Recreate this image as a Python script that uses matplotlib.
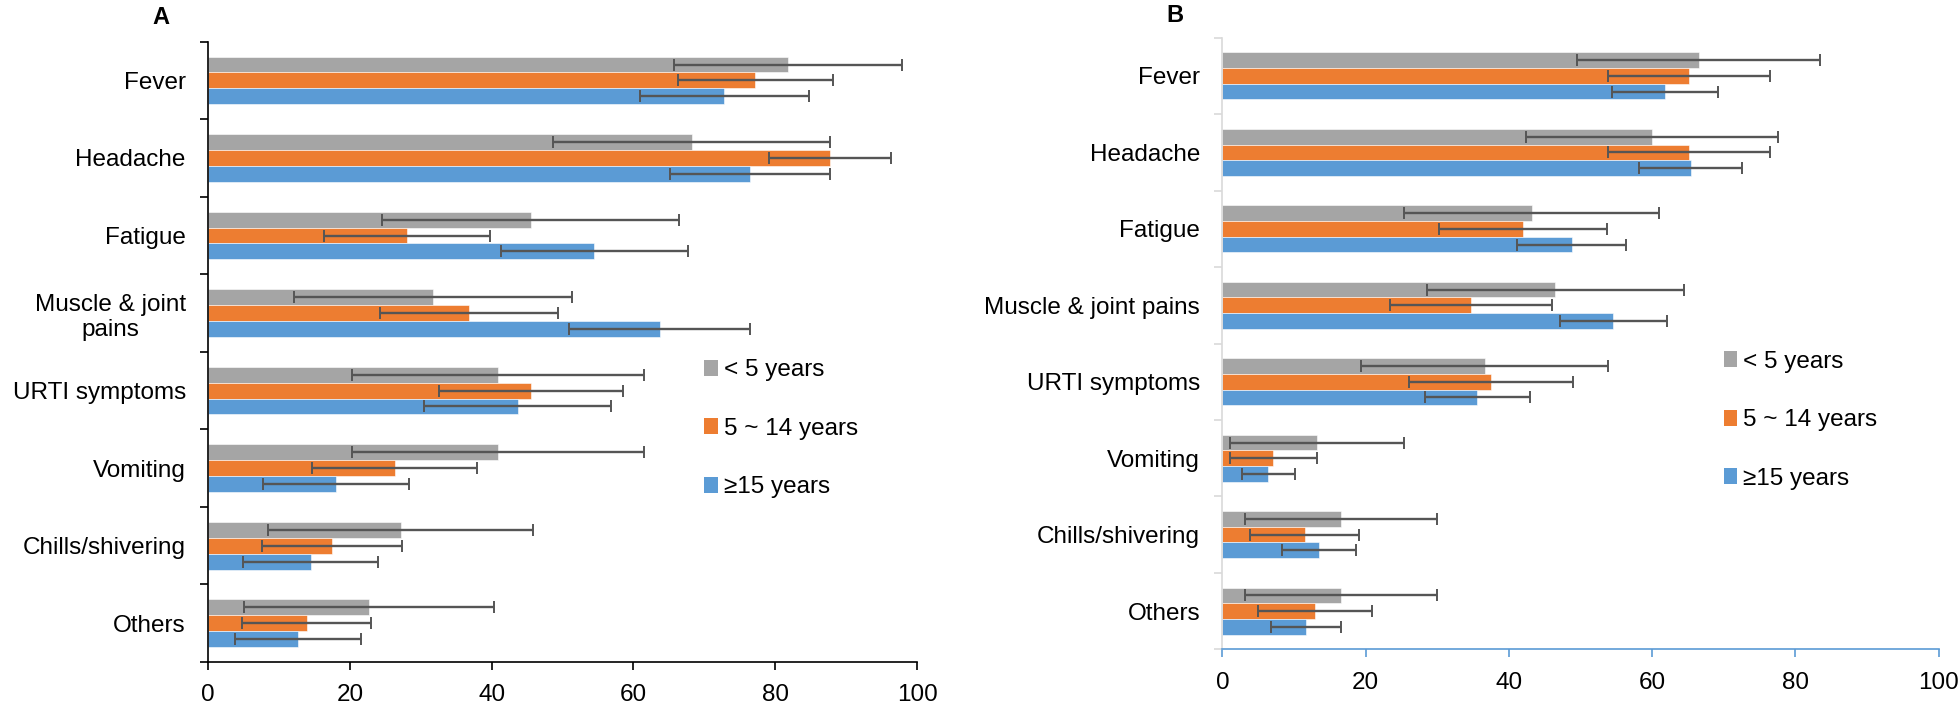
import matplotlib.pyplot as plt
import numpy as np
from matplotlib.patches import Patch

plt.rcParams["font.family"] = ["Liberation Sans", "DejaVu Sans"]

# ----- Données ----- #
symptoms_a = ["Fever", "Headache", "Fatigue", "Muscle & joint\npains",
              "URTI symptoms", "Vomiting", "Chills/shivering", "Others"]
symptoms_b = ["Fever", "Headache", "Fatigue", "Muscle & joint pains",
              "URTI symptoms", "Vomiting", "Chills/shivering", "Others"]
groups = ["< 5 years", "5 ~ 14 years", "≥15 years"]

# Panel A (%)
a_under5 = [81.8, 68.2, 45.5, 31.7, 40.9, 40.9, 27.2, 22.7]
a_5to14 = [77.2, 87.7, 28.0, 36.8, 45.6, 26.3, 17.5, 13.9]
a_15plus = [72.8, 76.4, 54.5, 63.7, 43.7, 18.1, 14.5, 12.7]
a_err_under5 = [16.1, 19.5, 20.9, 19.6, 20.6, 20.6, 18.7, 17.6]
a_err_5to14 = [10.9, 8.6, 11.7, 12.5, 13.0, 11.6, 9.9, 9.1]
a_err_15plus = [11.9, 11.3, 13.2, 12.8, 13.2, 10.3, 9.5, 8.9]

# Panel B (%)
b_under5 = [66.5, 60.0, 43.2, 46.5, 36.6, 13.2, 16.5, 16.5]
b_5to14 = [65.1, 65.1, 42.0, 34.7, 37.5, 7.1, 11.5, 12.9]
b_15plus = [61.8, 65.4, 48.8, 54.6, 35.6, 6.4, 13.5, 11.7]
b_err_under5 = [17.0, 17.6, 17.8, 17.9, 17.3, 12.2, 13.4, 13.4]
b_err_5to14 = [11.3, 11.3, 11.7, 11.3, 11.4, 6.1, 7.6, 8.0]
b_err_15plus = [7.4, 7.2, 7.6, 7.5, 7.3, 3.7, 5.2, 4.9]

COLORS = ["#a5a5a5", "#ed7d31", "#5b9bd5"]
FONT = 17.5


def plot_panel(ax, labels, series, errors, spine_color, xspine_color, tick_color):
    """Barres horizontales groupées avec barres d'erreur (style Excel)."""
    y = np.arange(len(labels))
    h = 0.205
    for k, (vals, errs) in enumerate(zip(series, errors)):
        pos = y + (k - 1) * h
        ax.barh(pos, vals, height=h, color=COLORS[k], edgecolor="white",
                linewidth=0.4)
        ax.errorbar(vals, pos, xerr=errs, fmt="none", ecolor="#555555",
                    elinewidth=1.7, capsize=4.5, capthick=1.4)

    ax.set_xlim(0, 100)
    ax.set_ylim(len(labels) - 0.5, -0.5)

    # ticks majeurs aux frontières, étiquettes au centre
    ax.set_yticks(np.arange(len(labels) + 1) - 0.5)
    ax.set_yticklabels([])
    ax.set_yticks(y, minor=True)
    ax.set_yticklabels(labels, minor=True, fontsize=FONT, ma="center")
    ax.tick_params(axis="y", which="minor", length=0, pad=16)
    ax.tick_params(axis="y", which="major", length=6, width=1.2,
                   color=tick_color)
    ax.set_xticks(np.arange(0, 101, 20))
    ax.tick_params(axis="x", labelsize=FONT, length=6, width=1.2,
                   color=xspine_color, pad=10)

    for side in ["top", "right"]:
        ax.spines[side].set_visible(False)
    ax.spines["left"].set_color(spine_color)
    ax.spines["left"].set_linewidth(1.2)
    ax.spines["bottom"].set_color(xspine_color)
    ax.spines["bottom"].set_linewidth(1.2)

    handles = [Patch(facecolor=c) for c in COLORS]
    ax.legend(handles, groups, loc="upper left", bbox_to_anchor=(0.70, 0.488),
              frameon=False, fontsize=FONT, handlelength=0.55,
              handleheight=0.65, handletextpad=0.25, labelspacing=1.5,
              borderpad=0, borderaxespad=0)


fig = plt.figure(figsize=(19.59, 7.04), dpi=100)
ax_a = fig.add_axes([0.1062, 0.0597, 0.3619, 0.8811])
ax_b = fig.add_axes([0.6240, 0.0777, 0.3656, 0.8687])

plot_panel(ax_a, symptoms_a,
           [a_under5, a_5to14, a_15plus],
           [a_err_under5, a_err_5to14, a_err_15plus],
           spine_color="black", xspine_color="black", tick_color="black")
plot_panel(ax_b, symptoms_b,
           [b_under5, b_5to14, b_15plus],
           [b_err_under5, b_err_5to14, b_err_15plus],
           spine_color="#d9d9d9", xspine_color="#5b9bd5", tick_color="#d9d9d9")

fig.text(161 / 1959, 1 - 17 / 704, "A", fontsize=17, fontweight="bold",
         ha="center", va="center")
fig.text(1175 / 1959, 1 - 16 / 704, "B", fontsize=17, fontweight="bold",
         ha="center", va="center")

fig.savefig("out.png", dpi=100)
plt.close(fig)
